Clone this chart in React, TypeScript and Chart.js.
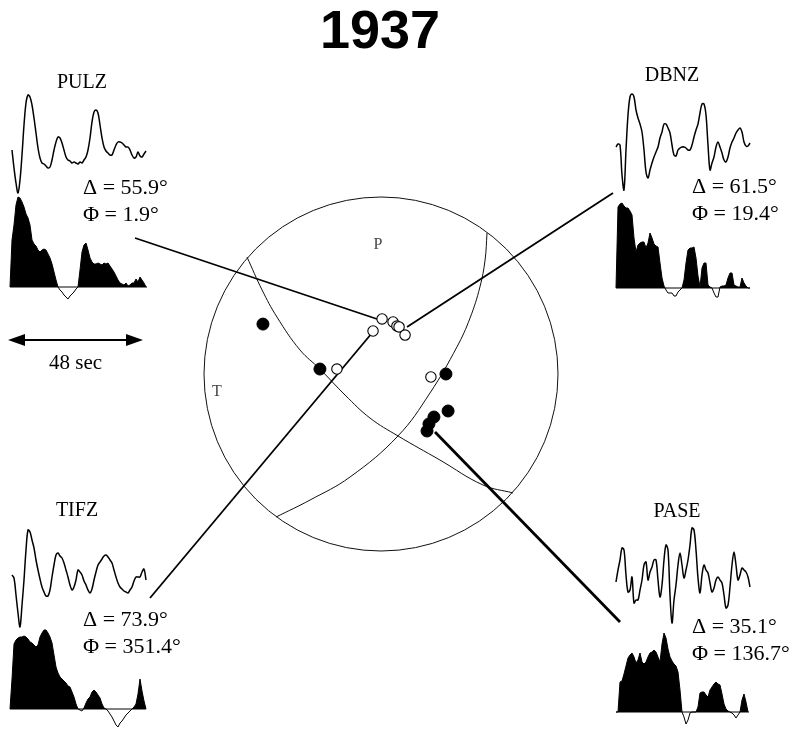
import React, { useEffect, useRef } from "react";
import { Chart, registerables } from "chart.js";
Chart.register(...registerables);

const FIG_W = 808;
const FIG_H = 731;
const titleText = "1937";

// ---- focal mechanism data (unit stereonet coords: east, north) ----
const compressions: number[][] = [
  [-0.667, 0.282], [-0.345, 0.028], [0.367, 0.0], [0.379, -0.209],
  [0.299, -0.243], [0.271, -0.282], [0.26, -0.322],
];
const dilatations: number[][] = [
  [0.006, 0.311], [0.068, 0.294], [0.09, 0.271], [0.102, 0.266],
  [0.136, 0.22], [-0.045, 0.243], [-0.249, 0.028], [0.282, -0.017],
];
const nodalPlaneA: number[][] = [
  [-0.757, 0.661], [-0.672, 0.475], [-0.588, 0.322], [-0.458, 0.136],
  [-0.345, 0.028], [-0.203, -0.119], [-0.062, -0.249], [0.096, -0.35],
  [0.333, -0.486], [0.576, -0.627], [0.746, -0.672],
];
const nodalPlaneB: number[][] = [
  [0.599, 0.797], [0.588, 0.644], [0.559, 0.492], [0.503, 0.316],
  [0.429, 0.153], [0.277, -0.107], [0.096, -0.35], [-0.175, -0.582],
  [-0.401, -0.712], [-0.593, -0.808],
];
const axisLabels = ["P", "T"];

// ---- stations ----
const stationNames = ["PULZ", "DBNZ", "TIFZ", "PASE"];
const distances = [55.9, 61.5, 73.9, 35.1];
const azimuths = [1.9, 19.4, 351.4, 136.7];
const scaleBarSec = 48;

// waveforms (amplitude, arbitrary units, one sample every 0.71 s)
const pulzWave = [10,-8,-23,-33,-20,5,35,57,65,63,55,42,27,12,2,-3,-4,-6,-8,-7,0,10,18,23,22,17,10,3,0,-1,-3,-2,-3,-4,-2,-3,0,3,10,22,38,48,50,47,35,22,13,9,7,5,5,10,15,18,18,17,15,13,13,10,5,2,3,8,4,3,6,9];
const pulzStf = [0,47,62,82,90,89,85,80,73,69,62,47,43,41,37,35,37,38,37,33,29,23,15,7,0,-3,-5,-8,-10,-12,-9,-7,-5,-2,0,17,35,42,44,37,29,25,23,23,24,23,22,24,23,24,21,18,15,11,7,4,3,2,4,1,2,4,4,8,5,10,7,4,0];
const dbnzWave = [3,6,5,-25,-40,0,35,53,56,53,40,32,26,18,0,-22,-28,-20,-13,-7,-2,3,12,18,26,26,22,17,5,-5,-6,0,2,3,3,2,0,0,5,13,20,26,37,46,46,35,5,-20,-13,-7,3,8,3,-3,-10,-12,-7,2,8,12,17,20,22,18,8,4,4,7];
const dbnzStf = [0,81,84,85,82,80,80,77,73,50,36,43,45,46,46,40,45,55,50,44,42,41,25,10,2,-2,-5,-5,-5,-8,-8,-4,-2,0,8,25,38,40,40,41,30,12,1,20,25,25,3,1,0,-5,-9,-9,1,2,2,3,10,15,15,3,2,1,1,10,5,2,0,0];
const tifzWave = [0,-3,-20,-38,-52,-30,-5,25,45,43,35,27,15,5,-4,-12,-17,-21,-21,-15,-2,10,20,22,19,17,12,5,-2,-10,-15,-12,-5,5,3,0,-6,-10,-15,-18,-14,-5,3,10,13,16,19,20,18,15,12,5,-2,-8,-12,-14,-16,-17,-18,-15,-12,-6,-2,-2,-2,3,6,-5];
const tifzStf = [0,30,65,69,71,72,72,73,72,70,67,66,64,62,64,72,76,79,79,76,72,66,54,42,36,32,30,28,26,23,22,17,12,5,0,-1,-2,1,6,10,12,17,19,17,14,11,5,1,0,-2,-5,-8,-12,-16,-18,-14,-12,-9,-6,-4,-2,0,2,5,15,30,18,8,0];
const paseWave = [-2,10,20,32,30,5,-12,-10,3,-23,-20,-20,-10,0,15,18,0,8,13,20,20,0,-17,-5,20,35,30,-15,-43,-20,-5,15,27,15,2,10,20,35,52,50,30,2,-13,5,15,10,7,-3,-12,-8,0,3,0,-3,-15,-28,-25,-7,15,28,15,0,5,12,10,8,3,-7];
const paseStf = [0,0,30,31,38,46,54,57,59,55,49,52,59,50,48,50,55,59,60,62,60,55,50,68,79,74,63,55,51,48,46,40,22,0,-5,-12,-8,-1,0,0,0,5,19,20,20,17,15,22,25,28,30,28,27,18,8,3,1,0,-1,-3,-6,-3,0,12,18,10,0];

const waves = [pulzWave, dbnzWave, tifzWave, paseWave];
const stfs = [pulzStf, dbnzStf, tifzStf, paseStf];

// ---- layout (figure pixels) ----
const BALL = { cx: 381, cy: 374, rx: 177, ry: 177 };
const SAMPLE_PX = 2;
const insets = [
  { labelX: 82, labelY: 83, waveX0: 12, waveBase: 160, stfX0: 10, stfBase: 287, stfEnd: 147, textX: 83, textY: 188, from: [135, 238], to: [377, 319], lw: 1.8 },
  { labelX: 672, labelY: 76, waveX0: 616, waveBase: 150, stfX0: 616, stfBase: 288, stfEnd: 750, textX: 692, textY: 187, from: [613, 193], to: [407, 327], lw: 1.8 },
  { labelX: 77, labelY: 511, waveX0: 12, waveBase: 575, stfX0: 10, stfBase: 709, stfEnd: 146, textX: 83, textY: 620, from: [150, 598], to: [372, 333], lw: 1.8 },
  { labelX: 677, labelY: 512, waveX0: 616, waveBase: 580, stfX0: 616, stfBase: 712, stfEnd: 749, textX: 692, textY: 627, from: [620, 622], to: [435, 432], lw: 2.8 },
];
const axisLabelPos = [[378, 245], [217, 392]];
const scaleBar = { x1: 8, x2: 143, y: 340, textY: 363 };

const ballXY = (p: number[]) => ({ x: BALL.cx + p[0] * BALL.rx, y: BALL.cy - p[1] * BALL.ry });
const traceXY = (amps: number[], x0: number, base: number) =>
  amps.map((a, i) => ({ x: x0 + i * SAMPLE_PX, y: base - a }));

const overlayPlugin = {
  id: "overlay",
  beforeDatasetsDraw(chart: any) {
    const { ctx, scales } = chart;
    const px = (v: number) => scales.x.getPixelForValue(v);
    const py = (v: number) => scales.y.getPixelForValue(v);
    ctx.save();
    ctx.fillStyle = "#fff";
    ctx.fillRect(0, 0, chart.width, chart.height);
    ctx.beginPath();
    ctx.ellipse(px(BALL.cx), py(BALL.cy), Math.abs(px(BALL.rx) - px(0)), Math.abs(py(BALL.ry) - py(0)), 0, 0, Math.PI * 2);
    ctx.strokeStyle = "#111";
    ctx.lineWidth = 1;
    ctx.stroke();
    ctx.restore();
  },
  afterDatasetsDraw(chart: any) {
    const { ctx, scales } = chart;
    const px = (v: number) => scales.x.getPixelForValue(v);
    const py = (v: number) => scales.y.getPixelForValue(v);
    ctx.save();
    ctx.fillStyle = "#000";
    ctx.font = 'bold 54px "Liberation Sans", Arial, sans-serif';
    ctx.textAlign = "center";
    ctx.textBaseline = "alphabetic";
    ctx.fillText(titleText, px(380), py(48));
    insets.forEach((s, i) => {
      ctx.font = '20px "Liberation Serif", "Times New Roman", serif';
      ctx.textAlign = "center";
      ctx.textBaseline = "middle";
      ctx.fillText(stationNames[i], px(s.labelX), py(s.labelY));
      ctx.font = '22px "Liberation Serif", "Times New Roman", serif';
      ctx.textAlign = "left";
      ctx.fillText(`\u0394 = ${distances[i].toFixed(1)}\u00b0`, px(s.textX), py(s.textY));
      ctx.fillText(`\u03a6 = ${azimuths[i].toFixed(1)}\u00b0`, px(s.textX), py(s.textY + 27));
    });
    ctx.font = '16px "Liberation Serif", "Times New Roman", serif';
    ctx.fillStyle = "#444";
    ctx.textAlign = "center";
    axisLabels.forEach((t, i) => ctx.fillText(t, px(axisLabelPos[i][0]), py(axisLabelPos[i][1])));
    ctx.fillStyle = "#000";
    ctx.strokeStyle = "#000";
    ctx.lineWidth = 2;
    const y = py(scaleBar.y);
    const a = px(scaleBar.x1), b = px(scaleBar.x2);
    ctx.beginPath();
    ctx.moveTo(a + 12, y);
    ctx.lineTo(b - 12, y);
    ctx.stroke();
    ctx.beginPath();
    ctx.moveTo(a, y); ctx.lineTo(a + 17, y - 6); ctx.lineTo(a + 17, y + 6); ctx.closePath();
    ctx.moveTo(b, y); ctx.lineTo(b - 17, y - 6); ctx.lineTo(b - 17, y + 6); ctx.closePath();
    ctx.fill();
    ctx.font = '21px "Liberation Serif", "Times New Roman", serif';
    ctx.textAlign = "center";
    ctx.textBaseline = "middle";
    ctx.fillText(`${scaleBarSec} sec`, px((scaleBar.x1 + scaleBar.x2) / 2), py(scaleBar.textY));
    ctx.restore();
  },
};

export default function App() {
  const ref = useRef<HTMLCanvasElement>(null);
  useEffect(() => {
    if (!ref.current) return;
    const datasets: any[] = [];
    datasets.push({
      data: compressions.map(ballXY), showLine: false, pointRadius: 6,
      pointBackgroundColor: "#000", pointBorderColor: "#000", pointBorderWidth: 1, order: 0,
    });
    datasets.push({
      data: dilatations.map(ballXY), showLine: false, pointRadius: 5.2,
      pointBackgroundColor: "#fff", pointBorderColor: "#000", pointBorderWidth: 1.1, order: 0,
    });
    insets.forEach((s) => {
      datasets.push({
        data: [{ x: s.from[0], y: s.from[1] }, { x: s.to[0], y: s.to[1] }],
        showLine: true, borderColor: "#000", borderWidth: s.lw, pointRadius: 0, order: 1,
      });
    });
    [nodalPlaneA, nodalPlaneB].forEach((pl) => {
      datasets.push({
        data: pl.map(ballXY), showLine: true, borderColor: "#111", borderWidth: 1,
        pointRadius: 0, tension: 0.4, order: 2,
      });
    });
    insets.forEach((s, i) => {
      datasets.push({
        data: traceXY(waves[i], s.waveX0, s.waveBase), showLine: true, borderColor: "#000",
        borderWidth: 1.5, pointRadius: 0, tension: 0.35, order: 3,
      });
      datasets.push({
        data: [{ x: s.stfX0, y: s.stfBase }, { x: s.stfEnd, y: s.stfBase }],
        showLine: true, borderColor: "#000", borderWidth: 1, pointRadius: 0, order: 3,
      });
      datasets.push({
        data: traceXY(stfs[i], s.stfX0, s.stfBase), showLine: true, borderColor: "#000",
        borderWidth: 1, pointRadius: 0, tension: 0,
        fill: { target: { value: s.stfBase }, above: "#000", below: "#fff" }, order: 4,
      });
    });
    const chart = new Chart(ref.current, {
      type: "scatter",
      data: { datasets },
      options: {
        animation: false,
        responsive: false,
        events: [],
        layout: { padding: 0, autoPadding: false },
        plugins: { legend: { display: false }, tooltip: { enabled: false } },
        scales: {
          x: { type: "linear", min: 0, max: FIG_W, display: false },
          y: { type: "linear", min: 0, max: FIG_H, reverse: true, display: false },
        },
      },
      plugins: [overlayPlugin],
    } as any);
    return () => chart.destroy();
  }, []);
  return (
    <div style={{ position: "absolute", left: 0, top: 0, width: FIG_W, height: FIG_H, background: "#fff" }}>
      <canvas ref={ref} width={FIG_W} height={FIG_H} style={{ display: "block" }} />
    </div>
  );
}
